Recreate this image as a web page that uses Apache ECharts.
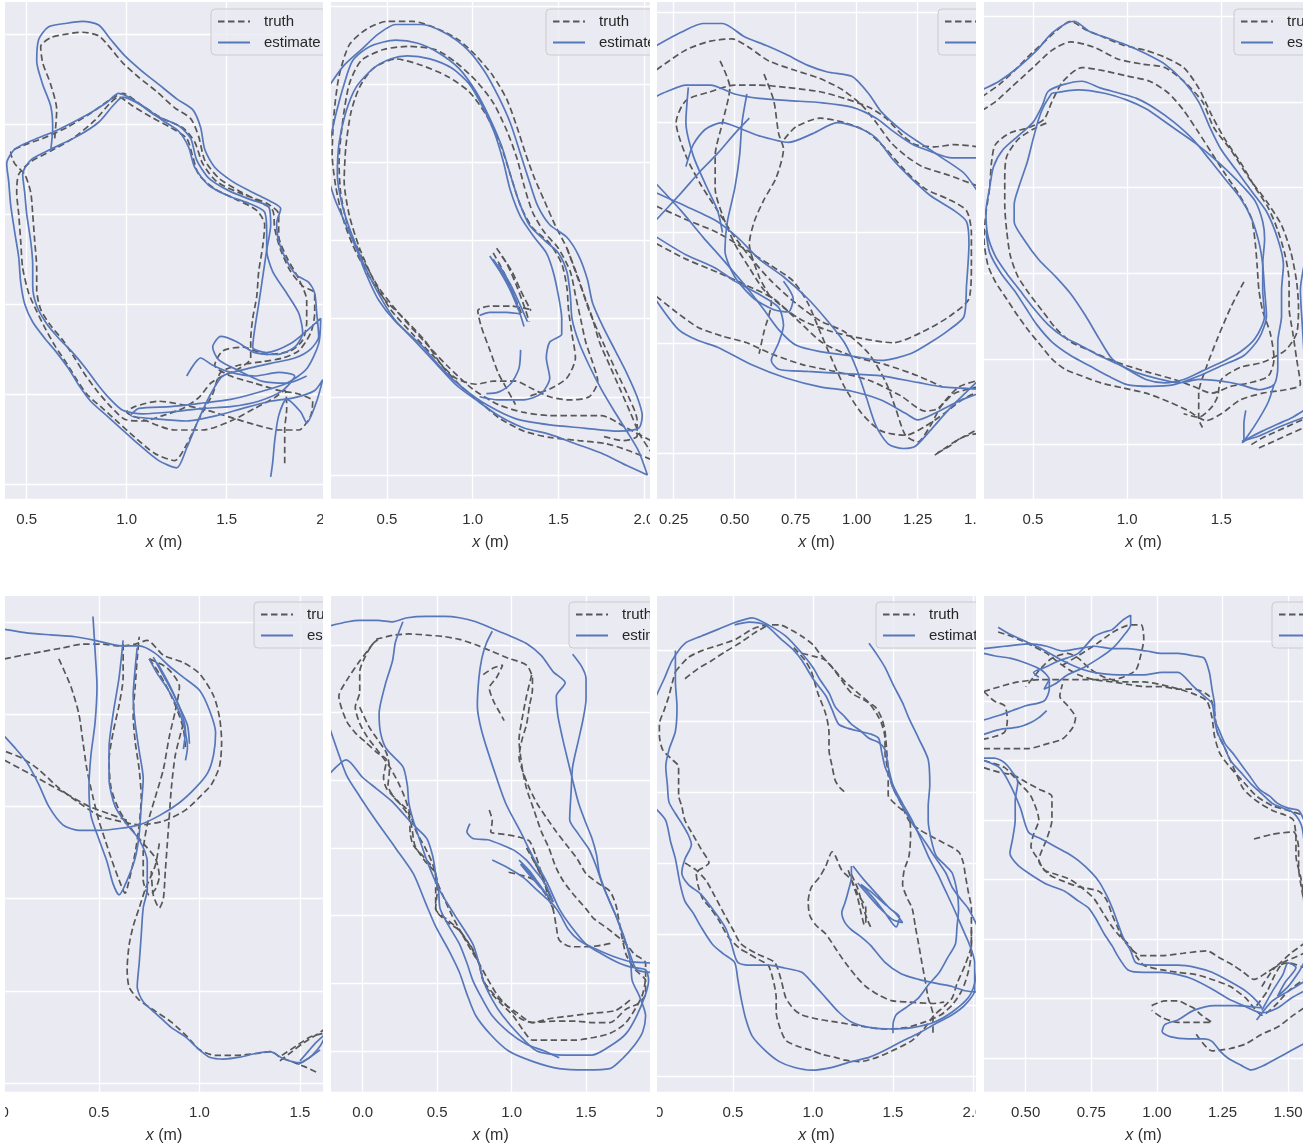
<!DOCTYPE html>
<html><head><meta charset="utf-8">
<script src="https://cdn.jsdelivr.net/npm/echarts@6/dist/echarts.min.js"></script>
<style>
html,body{margin:0;padding:0;background:#fff;width:1305px;height:1146px;overflow:hidden;}
.clip{position:absolute;overflow:hidden;}
.inner{position:absolute;}
</style></head><body>
<script>
// ---------- axis / panel description ----------
const xTickStep = [0.5,0.5,0.25,0.5,0.5,0.5,0.5,0.25];
const yTickStep = [0.5,0.5,0.5,0.5,0.5,0.5,0.5,0.25];
const xTickDecimals = [1,1,2,1,1,1,1,2];
const xVisible = [[0.3915,1.9815],[0.1731,2.0353],[0.1816,1.4889],[0.2398,1.9339],[0.0323,1.6144],[-0.2129,1.9295],[0.025,2.0188],[0.3411,1.5568]];
const yVisible = [[-0.0833,2.678],[-0.1535,3.024],[-0.2094,2.0477],[-0.3174,2.5823],[-0.0488,2.641],[-0.3028,3.3604],[-0.1142,3.3836],[-0.1429,1.9412]];
const seriesNames = ['truth','estimate'];

// ---------- panel 1 ----------
const p1Truth = [
[[0.64,1.92],[0.65,2.08],[0.62,2.22],[0.58,2.34],[0.57,2.43],[0.62,2.48],[0.7,2.5],[0.78,2.51],[0.86,2.49],[0.92,2.42],[0.98,2.34],[1.06,2.26],[1.15,2.18],[1.24,2.09],[1.32,2.03],[1.36,1.93],[1.39,1.8],[1.46,1.7],[1.56,1.63],[1.66,1.57],[1.73,1.52],[1.74,1.42],[1.77,1.3],[1.82,1.18],[1.88,1.1],[1.94,1.06],[1.94,0.95],[1.92,0.84],[1.86,0.74],[1.78,0.7],[1.68,0.68],[1.56,0.66],[1.47,0.62],[1.43,0.5],[1.37,0.38],[1.3,0.22],[1.24,0.13],[1.14,0.17],[1.04,0.26],[0.96,0.34],[0.88,0.42],[0.8,0.5],[0.75,0.58],[0.7,0.67],[0.64,0.77],[0.59,0.87],[0.55,0.96],[0.51,1.06],[0.48,1.2],[0.47,1.35],[0.46,1.5],[0.45,1.62],[0.46,1.72],[0.52,1.79],[0.62,1.85],[0.73,1.92],[0.84,2.02],[0.92,2.12],[0.96,2.15],[1.03,2.1],[1.12,2.04],[1.22,1.98],[1.3,1.92],[1.33,1.82],[1.36,1.72],[1.44,1.64],[1.55,1.58],[1.65,1.52],[1.69,1.44],[1.68,1.32],[1.66,1.18],[1.65,1.04],[1.63,0.92],[1.62,0.8],[1.62,0.7],[1.56,0.64],[1.48,0.6],[1.42,0.56],[1.36,0.48],[1.28,0.42],[1.18,0.38],[1.08,0.35],[0.99,0.36],[0.92,0.43],[0.85,0.52],[0.79,0.61],[0.74,0.7],[0.68,0.8],[0.62,0.88],[0.57,0.97],[0.55,1.08],[0.55,1.2],[0.54,1.35],[0.53,1.5],[0.52,1.62],[0.49,1.72],[0.44,1.78],[0.42,1.84],[0.48,1.88],[0.58,1.92],[0.7,1.98],[0.82,2.06],[0.91,2.13],[0.98,2.17],[1.08,2.1],[1.18,2.03],[1.28,1.98],[1.34,1.9],[1.38,1.78],[1.45,1.68],[1.58,1.61],[1.7,1.56],[1.76,1.5],[1.76,1.38],[1.8,1.26],[1.86,1.14],[1.9,1.02],[1.9,0.9],[1.88,0.8],[1.82,0.74],[1.7,0.72],[1.58,0.76],[1.48,0.74],[1.44,0.66],[1.52,0.6],[1.64,0.56],[1.76,0.52],[1.86,0.5],[1.93,0.46],[1.92,0.38],[1.86,0.3],[1.76,0.3],[1.64,0.33],[1.52,0.37],[1.4,0.41],[1.28,0.44],[1.16,0.46],[1.04,0.43],[1.0,0.4],[1.1,0.35],[1.24,0.3],[1.38,0.3],[1.52,0.35],[1.64,0.42],[1.74,0.48],[1.79,0.52],[1.8,0.42],[1.79,0.3],[1.79,0.2],[1.79,0.1]]
];
const p1Est = [
[[0.62,1.85],[0.63,1.98],[0.62,2.1],[0.58,2.22],[0.55,2.35],[0.56,2.47],[0.61,2.54],[0.7,2.56],[0.78,2.57],[0.86,2.55],[0.92,2.47],[0.99,2.38],[1.07,2.3],[1.16,2.22],[1.25,2.14],[1.33,2.08],[1.37,1.98],[1.39,1.86],[1.44,1.76],[1.53,1.68],[1.63,1.62],[1.72,1.57],[1.77,1.53],[1.75,1.45],[1.76,1.35],[1.8,1.24],[1.85,1.16],[1.91,1.12],[1.94,1.06],[1.95,0.95],[1.96,0.82],[1.92,0.75],[1.84,0.7],[1.72,0.67],[1.6,0.64],[1.48,0.6],[1.42,0.5],[1.36,0.36],[1.3,0.2],[1.25,0.09],[1.16,0.13],[1.06,0.22],[0.98,0.3],[0.9,0.38],[0.82,0.46],[0.76,0.55],[0.71,0.64],[0.65,0.73],[0.59,0.81],[0.53,0.9],[0.49,1.0],[0.47,1.12],[0.46,1.26],[0.44,1.4],[0.42,1.55],[0.41,1.68],[0.4,1.78],[0.44,1.86],[0.53,1.91],[0.66,1.97],[0.8,2.05],[0.9,2.12],[0.96,2.17],[1.04,2.13],[1.14,2.05],[1.26,1.99],[1.32,1.92],[1.35,1.8],[1.41,1.7],[1.51,1.63],[1.62,1.58],[1.71,1.54],[1.72,1.44],[1.7,1.3],[1.68,1.15],[1.66,1.0],[1.64,0.86],[1.63,0.76],[1.7,0.73],[1.82,0.78],[1.91,0.86],[1.97,0.92],[1.96,0.78],[1.9,0.64],[1.8,0.56],[1.66,0.51],[1.52,0.47],[1.38,0.45],[1.22,0.43],[1.06,0.42],[1.02,0.38],[1.16,0.36],[1.3,0.35],[1.45,0.38],[1.58,0.42],[1.72,0.46],[1.84,0.48],[1.94,0.52],[1.98,0.58],[1.95,0.46],[1.9,0.34],[1.87,0.4],[1.8,0.47],[1.76,0.38],[1.74,0.24],[1.73,0.12],[1.72,0.04]],
[[1.3,0.6],[1.37,0.7],[1.43,0.66],[1.52,0.62],[1.64,0.6],[1.76,0.62],[1.84,0.6],[1.78,0.52],[1.66,0.46],[1.52,0.43],[1.38,0.42],[1.22,0.4],[1.08,0.39],[0.98,0.41],[0.91,0.48],[0.85,0.56],[0.79,0.65],[0.73,0.73],[0.66,0.81],[0.6,0.89],[0.55,0.99],[0.53,1.1],[0.53,1.22],[0.52,1.35],[0.5,1.5],[0.49,1.62],[0.48,1.72],[0.52,1.8],[0.62,1.86],[0.75,1.93],[0.86,2.01],[0.93,2.1],[0.98,2.15],[1.08,2.1],[1.18,2.02],[1.26,1.96],[1.31,1.87],[1.34,1.76],[1.41,1.66],[1.51,1.6],[1.61,1.56],[1.69,1.51],[1.7,1.4],[1.7,1.3],[1.73,1.18],[1.8,1.06],[1.86,0.95],[1.88,0.84],[1.84,0.76],[1.75,0.72],[1.64,0.73],[1.55,0.79],[1.47,0.82],[1.43,0.76],[1.46,0.69],[1.56,0.63],[1.68,0.57],[1.8,0.56],[1.9,0.6]]
];

// ---------- panel 2 ----------
const p2Truth = [
[[2.04,0.1],[1.9,0.16],[1.78,0.2],[1.62,0.22],[1.45,0.24],[1.3,0.28],[1.16,0.36],[1.05,0.46],[0.93,0.57],[0.82,0.7],[0.72,0.86],[0.6,1.0],[0.48,1.13],[0.38,1.3],[0.3,1.47],[0.24,1.65],[0.2,1.85],[0.18,2.05],[0.19,2.3],[0.22,2.55],[0.28,2.75],[0.38,2.85],[0.5,2.9],[0.65,2.9],[0.8,2.85],[0.92,2.78],[1.02,2.68],[1.12,2.55],[1.2,2.4],[1.26,2.22],[1.31,2.05],[1.36,1.9],[1.42,1.75],[1.48,1.6],[1.55,1.45],[1.6,1.3],[1.65,1.15],[1.7,1.0],[1.74,0.85],[1.8,0.7],[1.86,0.55],[1.92,0.4],[1.98,0.25],[2.04,0.15]],
[[2.04,0.22],[1.9,0.3],[1.75,0.38],[1.6,0.38],[1.45,0.38],[1.3,0.4],[1.15,0.45],[1.0,0.55],[0.85,0.7],[0.72,0.85],[0.58,1.02],[0.45,1.2],[0.35,1.4],[0.27,1.6],[0.23,1.8],[0.22,2.0],[0.24,2.25],[0.28,2.5],[0.35,2.65],[0.48,2.72],[0.62,2.74],[0.78,2.72],[0.9,2.64],[1.02,2.52],[1.12,2.38],[1.2,2.2],[1.26,2.02],[1.3,1.85],[1.35,1.68],[1.42,1.55],[1.5,1.45],[1.57,1.3],[1.6,1.15],[1.63,1.0],[1.66,0.85],[1.7,0.72],[1.73,0.6],[1.68,0.5],[1.56,0.48],[1.45,0.5],[1.35,0.55],[1.25,0.6],[1.12,0.6],[1.02,0.58],[0.9,0.62],[0.78,0.75],[0.65,0.9],[0.52,1.06],[0.42,1.25],[0.34,1.45],[0.28,1.66],[0.25,1.88],[0.26,2.1],[0.29,2.32],[0.34,2.48],[0.42,2.6],[0.55,2.66],[0.7,2.62],[0.85,2.55],[0.98,2.45],[1.08,2.3],[1.16,2.12],[1.22,1.92],[1.28,1.72],[1.35,1.58],[1.45,1.48],[1.52,1.35],[1.55,1.2],[1.56,1.05],[1.58,0.9],[1.6,0.75],[1.55,0.62],[1.45,0.55],[1.32,0.5]],
[[1.14,1.45],[1.2,1.35],[1.26,1.2],[1.31,1.05],[1.33,0.98]],
[[1.12,1.42],[1.18,1.3],[1.24,1.15],[1.29,1.02]],
[[1.17,1.4],[1.23,1.3],[1.28,1.18],[1.34,1.05]],
[[1.33,1.06],[1.22,1.08],[1.1,1.08],[1.03,1.05],[1.05,0.95],[1.1,0.8],[1.15,0.65],[1.2,0.55],[1.25,0.45]],
[[1.55,1.45],[1.62,1.25],[1.68,1.05],[1.76,0.85],[1.84,0.66],[1.91,0.5],[1.96,0.35],[1.96,0.25],[1.88,0.22],[1.75,0.25]]
];
const p2Est = [
[[0.17,2.5],[0.25,2.62],[0.35,2.72],[0.45,2.82],[0.55,2.88],[0.7,2.88],[0.85,2.82],[0.97,2.72],[1.07,2.58],[1.15,2.42],[1.22,2.25],[1.28,2.05],[1.33,1.88],[1.38,1.72],[1.45,1.6],[1.55,1.52],[1.62,1.4],[1.67,1.25],[1.7,1.1],[1.76,0.95],[1.83,0.8],[1.9,0.65],[1.96,0.5],[1.99,0.38],[1.97,0.3],[1.85,0.28],[1.65,0.3],[1.45,0.32],[1.25,0.36],[1.08,0.45],[0.95,0.55],[0.82,0.68],[0.7,0.83],[0.55,0.98],[0.45,1.12],[0.38,1.28],[0.32,1.45],[0.26,1.6],[0.2,1.75],[0.17,1.85]],
[[0.17,2.15],[0.2,2.3],[0.25,2.5],[0.3,2.65],[0.4,2.74],[0.55,2.78],[0.68,2.76],[0.8,2.7],[0.92,2.6],[1.02,2.45],[1.1,2.28],[1.17,2.1],[1.22,1.92],[1.27,1.75],[1.33,1.6],[1.42,1.5],[1.5,1.42],[1.55,1.3],[1.57,1.15],[1.58,1.0],[1.62,0.85],[1.68,0.7],[1.75,0.55],[1.82,0.42],[1.9,0.28],[1.97,0.15],[2.02,0.0],[1.9,0.06],[1.75,0.14],[1.6,0.2],[1.45,0.26],[1.3,0.3],[1.15,0.38],[1.02,0.48],[0.9,0.58],[0.78,0.72],[0.66,0.86],[0.54,1.0],[0.44,1.18],[0.36,1.36],[0.29,1.55],[0.24,1.72],[0.21,1.92],[0.22,2.12],[0.26,2.32],[0.32,2.48],[0.42,2.6],[0.52,2.66],[0.62,2.68],[0.75,2.66],[0.88,2.6],[0.98,2.5],[1.06,2.35],[1.13,2.18],[1.18,2.0],[1.22,1.82],[1.28,1.65],[1.36,1.52],[1.43,1.42],[1.47,1.3],[1.5,1.15],[1.52,1.0],[1.52,0.9],[1.45,0.85],[1.43,0.75],[1.45,0.62],[1.4,0.52],[1.3,0.48],[1.15,0.48],[1.04,0.5]],
[[1.12,1.38],[1.18,1.28],[1.24,1.15],[1.28,1.02],[1.3,0.95]],
[[1.15,1.35],[1.22,1.22],[1.28,1.08],[1.32,0.98]],
[[1.1,1.4],[1.16,1.3],[1.22,1.18],[1.27,1.05]],
[[1.04,1.02],[1.1,1.04],[1.2,1.04],[1.28,1.03]],
[[1.28,0.8],[1.27,0.68],[1.22,0.58],[1.15,0.53],[1.08,0.52]]
];

// ---------- panel 3 ----------
const p3Truth = [
[[0.18,1.74],[0.3,1.83],[0.4,1.87],[0.49,1.88],[0.56,1.84],[0.64,1.78],[0.74,1.74],[0.85,1.7],[0.94,1.65],[1.02,1.58],[1.08,1.5],[1.14,1.41],[1.2,1.35],[1.27,1.3],[1.38,1.26],[1.5,1.21]],
[[1.5,1.39],[1.4,1.4],[1.32,1.39],[1.24,1.4],[1.19,1.44],[1.12,1.52],[1.05,1.57],[0.95,1.61],[0.85,1.64],[0.71,1.66],[0.6,1.67],[0.5,1.67],[0.4,1.64],[0.3,1.6],[0.26,1.5],[0.3,1.35],[0.36,1.22],[0.43,1.1],[0.5,0.98],[0.57,0.88],[0.65,0.78],[0.75,0.68],[0.85,0.6],[0.95,0.55],[1.05,0.45],[1.12,0.32],[1.16,0.2],[1.2,0.08],[1.25,0.05],[1.3,0.12],[1.35,0.22],[1.42,0.3],[1.5,0.33]],
[[1.5,0.3],[1.4,0.27],[1.33,0.2],[1.28,0.19],[1.18,0.26],[1.05,0.33],[0.91,0.37],[0.78,0.4],[0.65,0.45],[0.55,0.5],[0.45,0.53],[0.35,0.57],[0.26,0.64],[0.18,0.71]],
[[0.18,0.95],[0.3,0.88],[0.43,0.82],[0.55,0.76],[0.66,0.7],[0.76,0.6],[0.86,0.5],[0.98,0.44],[1.12,0.4],[1.25,0.35],[1.35,0.3]],
[[0.44,1.78],[0.48,1.66],[0.45,1.5],[0.42,1.35],[0.42,1.2],[0.45,1.08],[0.5,0.95],[0.56,0.84],[0.62,0.74],[0.7,0.66],[0.78,0.6],[0.9,0.55],[1.02,0.52],[1.15,0.5],[1.27,0.55],[1.38,0.62],[1.46,0.7],[1.47,0.85],[1.47,1.0],[1.45,1.1],[1.38,1.15],[1.28,1.2],[1.2,1.28],[1.12,1.38],[1.04,1.46],[0.95,1.5],[0.85,1.52],[0.75,1.48],[0.7,1.42]],
[[0.62,1.72],[0.66,1.6],[0.68,1.45],[0.7,1.38],[0.67,1.25],[0.62,1.15],[0.58,1.05],[0.56,0.95],[0.6,0.8],[0.65,0.68],[0.62,0.55],[0.6,0.45]],
[[0.18,1.12],[0.3,1.06],[0.43,1.0],[0.55,0.92],[0.65,0.85],[0.74,0.78],[0.8,0.68],[0.85,0.55],[0.9,0.42],[0.95,0.3],[1.02,0.18],[1.1,0.1],[1.2,0.08],[1.28,0.12],[1.36,0.18],[1.43,0.24],[1.5,0.28]],
[[1.32,-0.01],[1.36,0.02],[1.4,0.05],[1.45,0.08],[1.5,0.11]],
[[1.33,0.0],[1.38,0.03],[1.43,0.07],[1.5,0.09]]
];
const p3Est = [
[[0.18,1.85],[0.28,1.91],[0.37,1.95],[0.45,1.95],[0.54,1.89],[0.63,1.85],[0.71,1.81],[0.8,1.76],[0.88,1.73],[0.98,1.71],[1.05,1.63],[1.1,1.55],[1.19,1.46],[1.27,1.4],[1.35,1.34],[1.44,1.27],[1.5,1.18]],
[[1.5,1.34],[1.39,1.34],[1.3,1.37],[1.23,1.4],[1.15,1.46],[1.08,1.52],[0.98,1.57],[0.86,1.59],[0.72,1.6],[0.6,1.61],[0.5,1.63],[0.4,1.67],[0.3,1.67],[0.22,1.64],[0.18,1.62]],
[[0.3,1.3],[0.33,1.4],[0.38,1.47],[0.45,1.5],[0.53,1.47],[0.6,1.44],[0.72,1.41],[0.82,1.45],[0.92,1.5],[1.0,1.48],[1.08,1.43],[1.15,1.33],[1.22,1.25],[1.3,1.17],[1.4,1.1],[1.45,1.05],[1.46,0.95],[1.45,0.76],[1.44,0.62],[1.38,0.56],[1.3,0.5],[1.22,0.45],[1.1,0.42],[0.98,0.44],[0.85,0.46],[0.75,0.49],[0.68,0.56],[0.62,0.65],[0.55,0.75],[0.45,0.88],[0.37,0.98],[0.28,1.1],[0.18,1.22]],
[[0.18,0.69],[0.27,0.56],[0.35,0.51],[0.43,0.48],[0.57,0.4],[0.71,0.34],[0.85,0.3],[0.98,0.28],[1.1,0.24],[1.2,0.18],[1.25,0.15],[1.32,0.18],[1.39,0.22],[1.45,0.25],[1.5,0.27]],
[[0.18,1.18],[0.3,1.12],[0.43,1.05],[0.52,0.97],[0.6,0.88],[0.7,0.8],[0.8,0.7],[0.88,0.6],[0.95,0.5],[1.0,0.38],[1.04,0.25],[1.08,0.12],[1.13,0.04],[1.19,0.02],[1.24,0.03],[1.3,0.1],[1.38,0.2],[1.5,0.33]],
[[0.18,0.98],[0.3,0.9],[0.42,0.84],[0.5,0.78],[0.6,0.72],[0.68,0.66],[0.7,0.58],[0.68,0.5],[0.65,0.42],[0.68,0.38],[0.8,0.37],[0.95,0.36],[1.1,0.35],[1.25,0.32],[1.35,0.3],[1.5,0.29]],
[[0.55,1.63],[0.53,1.5],[0.52,1.35],[0.5,1.2],[0.47,1.05],[0.46,0.92],[0.5,0.8],[0.58,0.7],[0.66,0.65],[0.72,0.64],[0.74,0.7],[0.7,0.78]],
[[0.18,1.06],[0.28,1.18],[0.36,1.28],[0.43,1.36],[0.5,1.45],[0.56,1.52]],
[[0.31,1.66],[0.3,1.5],[0.33,1.35],[0.38,1.22],[0.43,1.1],[0.45,1.0]]
];

// ---------- panel 4 ----------
const p4Truth = [
[[0.23,2.03],[0.32,2.1],[0.4,2.18],[0.48,2.27],[0.56,2.35],[0.63,2.42],[0.7,2.47],[0.78,2.42],[0.87,2.38],[0.98,2.33],[1.1,2.3],[1.2,2.26],[1.3,2.2],[1.38,2.08],[1.45,1.92],[1.52,1.78],[1.6,1.65],[1.68,1.5],[1.75,1.38],[1.8,1.25],[1.84,1.1],[1.86,0.95],[1.86,0.8],[1.88,0.65],[1.9,0.5],[1.92,0.35],[1.84,0.32],[1.72,0.3],[1.6,0.26],[1.5,0.18],[1.42,0.14],[1.32,0.2],[1.22,0.25],[1.1,0.3],[0.98,0.33],[0.86,0.36],[0.76,0.4],[0.67,0.44],[0.6,0.5],[0.54,0.58],[0.48,0.66],[0.42,0.75],[0.36,0.85],[0.3,0.95],[0.26,1.05],[0.24,1.2],[0.25,1.35],[0.27,1.5],[0.28,1.65],[0.3,1.75],[0.38,1.82],[0.48,1.85],[0.56,1.9],[0.6,2.0],[0.66,2.12],[0.76,2.2],[0.88,2.18],[1.0,2.15],[1.12,2.12],[1.22,2.05],[1.3,1.95],[1.38,1.82],[1.45,1.7],[1.52,1.58],[1.6,1.45],[1.66,1.32],[1.68,1.18],[1.69,1.05],[1.7,0.9],[1.72,0.78],[1.76,0.65],[1.78,0.5],[1.75,0.4],[1.65,0.36],[1.55,0.34],[1.45,0.3],[1.35,0.34],[1.25,0.38],[1.12,0.42],[1.0,0.46],[0.9,0.5],[0.8,0.55],[0.7,0.6],[0.62,0.68],[0.55,0.78],[0.48,0.88],[0.42,0.98],[0.38,1.1],[0.36,1.25],[0.35,1.4],[0.35,1.55],[0.36,1.68],[0.42,1.78],[0.5,1.84],[0.58,1.88]],
[[0.23,1.95],[0.3,2.0],[0.38,2.08],[0.5,2.2],[0.6,2.3],[0.7,2.35],[0.82,2.32],[0.95,2.25],[1.08,2.22],[1.2,2.2],[1.3,2.12],[1.4,2.0],[1.46,1.85],[1.55,1.72],[1.65,1.55],[1.74,1.42],[1.82,1.28],[1.87,1.12],[1.9,0.95],[1.91,0.8],[1.9,0.65],[1.84,0.55],[1.72,0.48],[1.6,0.45],[1.5,0.38],[1.48,0.28],[1.45,0.22],[1.38,0.16],[1.3,0.18]],
[[1.62,0.95],[1.55,0.8],[1.48,0.62],[1.42,0.45],[1.38,0.3],[1.38,0.15],[1.4,0.1]],
[[1.66,0.0],[1.72,0.04],[1.8,0.08],[1.88,0.12],[1.94,0.15]],
[[1.7,-0.02],[1.78,0.02],[1.86,0.06],[1.94,0.1]]
];
const p4Est = [
[[0.23,2.07],[0.32,2.12],[0.42,2.2],[0.52,2.3],[0.6,2.4],[0.68,2.46],[0.72,2.47],[0.8,2.41],[0.9,2.37],[1.0,2.33],[1.1,2.28],[1.2,2.22],[1.3,2.12],[1.38,2.0],[1.44,1.85],[1.5,1.72],[1.58,1.6],[1.66,1.48],[1.74,1.36],[1.8,1.2],[1.83,1.05],[1.82,0.9],[1.82,0.75],[1.8,0.6],[1.8,0.45],[1.78,0.35],[1.7,0.32],[1.6,0.35],[1.5,0.37],[1.38,0.38],[1.28,0.36],[1.18,0.38],[1.05,0.42],[0.95,0.47],[0.85,0.52],[0.75,0.58],[0.66,0.63],[0.58,0.7],[0.5,0.8],[0.43,0.9],[0.36,1.0],[0.3,1.1],[0.26,1.22],[0.25,1.36],[0.27,1.5],[0.29,1.62],[0.34,1.72],[0.42,1.8],[0.5,1.88],[0.55,1.98],[0.58,2.06],[0.66,2.1],[0.76,2.12],[0.86,2.08],[0.96,2.05],[1.05,2.02],[1.15,1.96],[1.25,1.88],[1.35,1.78],[1.44,1.66],[1.52,1.55],[1.6,1.44],[1.66,1.32],[1.7,1.18],[1.72,1.05],[1.73,0.9],[1.74,0.75],[1.7,0.62],[1.62,0.52],[1.5,0.46],[1.38,0.4],[1.25,0.35],[1.12,0.34],[1.0,0.35],[0.9,0.4],[0.8,0.46],[0.7,0.52],[0.6,0.6],[0.52,0.7],[0.46,0.8],[0.4,0.9],[0.33,1.0],[0.27,1.12],[0.25,1.25]],
[[0.6,2.05],[0.74,2.07],[0.88,2.05],[1.0,2.01],[1.1,1.96],[1.18,1.9],[1.27,1.83],[1.36,1.76],[1.45,1.68],[1.54,1.59],[1.62,1.5],[1.68,1.42],[1.72,1.3],[1.73,1.2],[1.72,1.05],[1.72,0.9],[1.73,0.75],[1.68,0.62],[1.6,0.54],[1.5,0.48],[1.4,0.43],[1.3,0.38],[1.2,0.36],[1.1,0.38],[1.0,0.44],[0.92,0.5],[0.85,0.62],[0.78,0.75],[0.7,0.88],[0.62,0.98],[0.53,1.08],[0.45,1.2],[0.4,1.3],[0.4,1.4],[0.43,1.52],[0.47,1.65],[0.5,1.78],[0.53,1.9],[0.56,1.98],[0.6,2.05]],
[[1.78,0.35],[1.75,0.25],[1.7,0.15],[1.64,0.05],[1.61,0.01],[1.65,0.04],[1.72,0.08],[1.8,0.12],[1.88,0.16],[1.94,0.2]],
[[1.61,0.02],[1.7,0.05],[1.8,0.1],[1.94,0.16]],
[[1.62,0.02],[1.62,0.12],[1.63,0.2]],
[[1.94,1.05],[1.92,0.9],[1.93,0.7],[1.94,0.52]]
];

// ---------- panel 5 ----------
const p5Truth = [
[[0.03,2.3],[0.12,2.32],[0.22,2.34],[0.32,2.36],[0.42,2.38],[0.52,2.38],[0.6,2.37],[0.68,2.38],[0.74,2.4],[0.82,2.32],[0.92,2.28],[1.0,2.22],[1.07,2.1],[1.1,1.98],[1.11,1.85],[1.1,1.72],[1.06,1.62],[1.0,1.55],[0.93,1.48],[0.82,1.42],[0.7,1.4],[0.6,1.42],[0.5,1.45],[0.4,1.52],[0.3,1.6],[0.2,1.7],[0.12,1.76],[0.03,1.8]],
[[0.3,2.3],[0.36,2.15],[0.4,2.0],[0.42,1.85],[0.44,1.7],[0.47,1.55],[0.5,1.42],[0.53,1.32],[0.56,1.22],[0.6,1.1],[0.63,1.03],[0.65,1.1],[0.68,1.25],[0.7,1.4],[0.71,1.55],[0.7,1.7],[0.68,1.85],[0.67,2.0],[0.68,2.15],[0.69,2.3],[0.7,2.42]],
[[0.62,2.38],[0.62,2.2],[0.6,2.05],[0.57,1.9],[0.55,1.75],[0.56,1.6],[0.6,1.48],[0.66,1.38],[0.72,1.3],[0.78,1.22],[0.8,1.12],[0.78,1.05],[0.75,1.02],[0.72,1.1],[0.72,1.25],[0.74,1.4],[0.78,1.55],[0.82,1.7],[0.85,1.88],[0.88,2.02],[0.9,2.15],[0.84,2.25],[0.75,2.3]],
[[0.92,1.95],[0.88,1.78],[0.86,1.6],[0.85,1.45],[0.84,1.3],[0.83,1.15],[0.82,1.0],[0.8,0.95],[0.77,1.02],[0.76,1.15]],
[[0.8,1.3],[0.78,1.18],[0.73,1.05],[0.7,0.95],[0.67,0.85],[0.65,0.75],[0.64,0.62],[0.65,0.52],[0.7,0.45],[0.78,0.39],[0.86,0.33],[0.94,0.25],[1.0,0.18],[1.08,0.15],[1.18,0.15],[1.28,0.16],[1.36,0.17],[1.4,0.14],[1.45,0.12],[1.52,0.09],[1.58,0.06]],
[[1.4,0.12],[1.46,0.17],[1.52,0.22],[1.58,0.26],[1.62,0.29]],
[[1.41,0.15],[1.48,0.2],[1.55,0.25],[1.62,0.27]],
[[0.75,2.3],[0.8,2.22],[0.85,2.12],[0.89,2.02],[0.92,1.92],[0.93,1.82]],
[[0.03,1.75],[0.15,1.68],[0.25,1.62],[0.35,1.56],[0.45,1.5],[0.55,1.46],[0.65,1.42]]
];
const p5Est = [
[[0.03,2.46],[0.15,2.44],[0.26,2.43],[0.38,2.42],[0.48,2.4],[0.56,2.38],[0.62,2.37],[0.7,2.37],[0.78,2.33],[0.85,2.26],[0.92,2.2],[1.0,2.13],[1.05,2.02],[1.08,1.9],[1.07,1.78],[1.04,1.68],[0.98,1.6],[0.9,1.52],[0.8,1.45],[0.7,1.4],[0.6,1.38],[0.5,1.37],[0.4,1.37],[0.32,1.4],[0.25,1.5],[0.2,1.62],[0.14,1.74],[0.08,1.82],[0.03,1.88]],
[[0.47,2.53],[0.48,2.35],[0.49,2.15],[0.48,1.95],[0.46,1.78],[0.45,1.6],[0.46,1.45],[0.5,1.32],[0.54,1.2],[0.57,1.08],[0.6,1.02],[0.64,1.1],[0.68,1.22],[0.7,1.35],[0.71,1.5],[0.72,1.65],[0.7,1.8],[0.68,1.95],[0.67,2.1],[0.68,2.25],[0.69,2.36]],
[[0.75,2.3],[0.79,2.22],[0.84,2.14],[0.88,2.06],[0.91,1.98],[0.93,1.9],[0.94,1.82],[0.93,1.75]],
[[0.77,2.31],[0.82,2.21],[0.87,2.11],[0.91,2.01],[0.93,1.91],[0.92,1.81]],
[[0.79,2.28],[0.85,2.16],[0.9,2.04],[0.94,1.94],[0.95,1.84]],
[[0.62,2.4],[0.6,2.2],[0.57,2.0],[0.55,1.82],[0.55,1.65],[0.58,1.5],[0.64,1.4],[0.7,1.32],[0.74,1.2],[0.74,1.05],[0.72,0.95],[0.71,0.8],[0.7,0.65],[0.69,0.52],[0.72,0.44],[0.79,0.37],[0.86,0.3],[0.93,0.25],[1.0,0.18],[1.05,0.14],[1.12,0.13],[1.2,0.14],[1.28,0.16],[1.35,0.17],[1.42,0.13],[1.5,0.11],[1.56,0.15],[1.6,0.2],[1.62,0.24]],
[[1.5,0.12],[1.54,0.17],[1.58,0.22],[1.62,0.26]],
[[1.49,0.1],[1.55,0.14],[1.6,0.18]]
];

// ---------- panel 6 ----------
const p6Truth = [
[[0.09,3.04],[0.2,3.07],[0.31,3.08],[0.45,3.07],[0.55,3.06],[0.65,3.04],[0.76,3.0],[0.87,2.95],[0.98,2.9],[1.1,2.85],[1.14,2.75],[1.14,2.67],[1.12,2.55],[1.1,2.41],[1.07,2.3],[1.05,2.17],[1.08,2.05],[1.12,1.94],[1.17,1.83],[1.23,1.73],[1.3,1.62],[1.37,1.52],[1.44,1.42],[1.5,1.31],[1.58,1.24],[1.66,1.18],[1.7,1.08],[1.72,0.97],[1.74,0.85],[1.77,0.71],[1.83,0.6],[1.9,0.52],[1.9,0.42],[1.85,0.35],[1.77,0.31],[1.66,0.21],[1.55,0.21],[1.43,0.22],[1.28,0.22],[1.14,0.21],[1.04,0.28],[0.96,0.34],[0.88,0.42],[0.81,0.52],[0.79,0.62],[0.74,0.75],[0.67,0.86],[0.6,1.0],[0.55,1.12],[0.5,1.25],[0.47,1.38],[0.42,1.5],[0.36,1.62],[0.32,1.75],[0.28,1.88],[0.24,1.98],[0.18,2.1],[0.1,2.22],[0.03,2.32],[-0.02,2.42],[-0.05,2.54],[-0.02,2.65],[-0.02,2.8],[0.02,2.92],[0.07,3.01],[0.12,3.05]],
[[-0.02,2.54],[0.04,2.4],[0.1,2.3],[0.16,2.2],[0.18,2.08],[0.17,1.96],[0.22,1.86],[0.3,1.78],[0.33,1.65],[0.35,1.52],[0.42,1.4],[0.49,1.31],[0.5,1.18],[0.49,1.05],[0.56,0.96],[0.65,0.89],[0.72,0.78],[0.78,0.65],[0.8,0.55],[0.83,0.47],[0.92,0.36],[1.01,0.26],[1.08,0.15],[1.14,0.08],[1.3,0.08],[1.43,0.08],[1.55,0.1],[1.66,0.13],[1.76,0.2],[1.83,0.31],[1.88,0.42],[1.9,0.55],[1.9,0.65],[1.82,0.72],[1.77,0.79],[1.65,0.9],[1.55,0.98],[1.5,1.05],[1.42,1.15],[1.35,1.25],[1.3,1.35],[1.25,1.5],[1.2,1.62],[1.15,1.78],[1.1,1.94],[1.07,2.1],[1.05,2.3],[1.07,2.45],[1.1,2.62],[1.14,2.8]],
[[0.07,3.01],[-0.02,2.88],[-0.1,2.75],[-0.16,2.62],[-0.11,2.44],[-0.05,2.35],[0.02,2.28],[0.1,2.2],[0.16,2.15],[0.14,2.02],[0.16,1.94],[0.24,1.84],[0.31,1.73],[0.32,1.6],[0.34,1.52],[0.42,1.42],[0.49,1.31],[0.49,1.18],[0.49,1.05],[0.58,0.96],[0.65,0.89],[0.72,0.76],[0.78,0.65],[0.83,0.55],[0.9,0.42],[0.98,0.32],[1.06,0.24],[1.14,0.21],[1.26,0.24],[1.4,0.26],[1.55,0.28],[1.7,0.3],[1.8,0.38]],
[[0.81,2.78],[0.88,2.83],[0.94,2.85],[0.9,2.76],[0.85,2.68],[0.88,2.58],[0.92,2.5],[0.95,2.44]],
[[0.85,1.78],[0.87,1.7],[0.86,1.62],[0.95,1.6],[1.05,1.58],[1.12,1.55],[1.16,1.45],[1.19,1.35],[1.22,1.25],[1.25,1.12],[1.28,1.05]],
[[0.98,1.32],[1.06,1.3],[1.14,1.27],[1.2,1.2],[1.25,1.12],[1.28,1.04],[1.3,0.92],[1.32,0.82],[1.4,0.77],[1.5,0.77],[1.6,0.78],[1.68,0.8]],
[[1.1,1.5],[1.15,1.4],[1.2,1.3],[1.24,1.2],[1.27,1.1]],
[[1.12,1.48],[1.17,1.36],[1.22,1.24],[1.26,1.14],[1.29,1.06]]
];
const p6Est = [
[[-0.22,3.14],[-0.1,3.17],[-0.02,3.18],[0.1,3.18],[0.2,3.17],[0.3,3.2],[0.43,3.21],[0.55,3.21],[0.65,3.2],[0.76,3.17],[0.87,3.12],[0.98,3.07],[1.1,3.01],[1.2,2.92],[1.28,2.8],[1.36,2.72],[1.3,2.62],[1.31,2.48],[1.34,2.32],[1.37,2.18],[1.41,2.0],[1.45,1.83],[1.5,1.68],[1.54,1.57],[1.57,1.45],[1.59,1.31],[1.63,1.18],[1.68,1.05],[1.73,0.92],[1.77,0.79],[1.8,0.65],[1.81,0.52],[1.86,0.4],[1.9,0.26],[1.88,0.14],[1.83,0.05],[1.75,-0.05],[1.66,-0.13],[1.5,-0.14],[1.32,-0.13],[1.15,-0.08],[0.98,0.0],[0.86,0.12],[0.76,0.26],[0.7,0.42],[0.65,0.58],[0.58,0.74],[0.49,0.92],[0.42,1.1],[0.34,1.31],[0.22,1.5],[0.09,1.7],[-0.02,1.88],[-0.11,2.04],[-0.17,2.22],[-0.22,2.38]],
[[0.27,3.17],[0.22,3.02],[0.2,2.88],[0.15,2.7],[0.11,2.49],[0.12,2.35],[0.16,2.23],[0.27,2.1],[0.3,1.96],[0.31,1.83],[0.34,1.7],[0.38,1.57],[0.44,1.38],[0.52,1.18],[0.62,1.0],[0.74,0.79],[0.78,0.65],[0.81,0.52],[0.87,0.38],[0.94,0.26],[1.05,0.12],[1.17,0.0],[1.35,-0.03],[1.54,-0.03],[1.68,0.05],[1.77,0.13],[1.84,0.26],[1.9,0.42],[1.92,0.52],[1.9,0.6],[1.8,0.62],[1.72,0.65],[1.6,0.72],[1.5,0.79],[1.4,0.92],[1.32,1.05],[1.24,1.24],[1.14,1.44],[1.06,1.62],[0.96,1.83],[0.88,2.08],[0.8,2.36],[0.77,2.55],[0.78,2.75],[0.8,2.9],[0.83,3.01],[0.87,3.1]],
[[1.41,2.93],[1.47,2.84],[1.5,2.75],[1.5,2.6],[1.48,2.45],[1.45,2.3],[1.41,2.1],[1.4,1.92],[1.39,1.71],[1.45,1.6],[1.52,1.49],[1.57,1.36],[1.61,1.23],[1.66,1.1],[1.7,1.0],[1.75,0.85],[1.8,0.7],[1.84,0.6],[1.94,0.58]],
[[-0.22,2.05],[-0.11,2.15],[0.0,2.02],[0.09,1.94],[0.2,1.84],[0.29,1.73],[0.36,1.65],[0.43,1.57],[0.47,1.44],[0.49,1.31],[0.51,1.18],[0.52,1.05],[0.58,0.92],[0.65,0.79],[0.7,0.65],[0.74,0.52],[0.8,0.39],[0.87,0.26],[0.98,0.14],[1.1,0.05],[1.22,0.0],[1.32,-0.05]],
[[0.72,1.68],[0.7,1.62],[0.74,1.57],[0.84,1.56],[0.94,1.52],[1.02,1.48],[1.1,1.41],[1.16,1.33],[1.21,1.26],[1.25,1.18],[1.28,1.1]],
[[1.05,1.41],[1.12,1.33],[1.18,1.24],[1.24,1.15],[1.28,1.1],[1.2,1.2],[1.12,1.3],[1.06,1.38],[1.15,1.28],[1.22,1.18],[1.27,1.12]],
[[0.87,1.41],[0.98,1.35],[1.08,1.28],[1.16,1.2],[1.22,1.14],[1.28,1.08],[1.33,1.0],[1.38,0.9],[1.45,0.82],[1.55,0.76],[1.68,0.7],[1.8,0.66],[1.94,0.65]]
];

// ---------- panel 7 ----------
const p7Truth = [
[[0.14,2.85],[0.22,2.95],[0.31,3.0],[0.42,3.04],[0.52,3.08],[0.62,3.15],[0.72,3.18],[0.79,3.18],[0.87,3.14],[0.93,3.1],[1.0,3.04],[1.04,2.98],[1.12,2.88],[1.2,2.78],[1.28,2.7],[1.35,2.63],[1.4,2.55],[1.43,2.48],[1.45,2.38],[1.45,2.28],[1.47,2.15],[1.5,2.03],[1.55,1.92],[1.6,1.8],[1.66,1.74],[1.72,1.7],[1.82,1.64],[1.91,1.58],[1.94,1.5],[1.95,1.43],[1.97,1.3],[1.99,1.18],[1.99,1.05],[1.99,0.93],[1.95,0.78],[1.9,0.65],[1.87,0.55],[1.82,0.49],[1.76,0.43],[1.7,0.34],[1.62,0.25],[1.52,0.19],[1.4,0.13],[1.29,0.1],[1.2,0.11],[1.14,0.13],[1.06,0.15],[0.99,0.18],[0.9,0.21],[0.83,0.25],[0.79,0.35],[0.77,0.45],[0.77,0.55],[0.75,0.68],[0.72,0.78],[0.66,0.82],[0.6,0.86],[0.54,0.9],[0.47,0.98],[0.41,1.1],[0.36,1.18],[0.31,1.25],[0.28,1.35],[0.27,1.43],[0.33,1.48],[0.35,1.5],[0.3,1.6],[0.25,1.7],[0.2,1.8],[0.18,1.9],[0.16,1.98],[0.16,2.08],[0.16,2.18],[0.11,2.24],[0.06,2.3],[0.04,2.4],[0.04,2.48],[0.07,2.58],[0.1,2.68],[0.12,2.77],[0.14,2.85]],
[[0.2,2.8],[0.28,2.87],[0.37,2.93],[0.45,2.99],[0.54,3.05],[0.63,3.12],[0.72,3.18]],
[[0.88,3.02],[0.95,2.93],[0.99,2.85],[1.03,2.7],[1.08,2.55],[1.1,2.42],[1.1,2.3],[1.12,2.18],[1.14,2.08],[1.17,2.03],[1.2,2.0]],
[[0.93,2.98],[1.0,2.96],[1.08,2.93],[1.16,2.82],[1.24,2.7],[1.32,2.65],[1.39,2.6],[1.43,2.52],[1.45,2.43],[1.46,2.3],[1.47,2.13],[1.47,1.98],[1.53,1.9],[1.6,1.83],[1.61,1.7],[1.6,1.55],[1.57,1.45],[1.56,1.35],[1.59,1.25],[1.62,1.18],[1.64,1.05],[1.66,0.93],[1.68,0.8],[1.7,0.68],[1.72,0.55],[1.75,0.43],[1.75,0.3]],
[[1.33,1.08],[1.33,1.18],[1.28,1.28],[1.24,1.38],[1.18,1.45],[1.14,1.55],[1.12,1.58],[1.08,1.48],[1.04,1.4],[0.99,1.33],[0.97,1.23],[0.98,1.13],[1.02,1.06],[1.08,1.0],[1.14,0.9],[1.2,0.8],[1.27,0.7],[1.33,0.63],[1.41,0.57],[1.49,0.53],[1.6,0.52],[1.75,0.51],[1.82,0.52]],
[[0.2,1.5],[0.27,1.45],[0.33,1.38],[0.38,1.28],[0.45,1.13],[0.5,1.03],[0.55,0.93],[0.65,0.86],[0.76,0.8],[0.8,0.68],[0.83,0.55],[0.88,0.47],[0.93,0.43],[1.03,0.4],[1.14,0.38],[1.3,0.35],[1.45,0.33],[1.58,0.34],[1.7,0.38],[1.8,0.43],[1.87,0.5],[1.93,0.6],[1.97,0.73],[1.99,0.88],[1.99,1.03]],
[[1.22,1.45],[1.25,1.35],[1.28,1.25],[1.3,1.15],[1.32,1.06]],
[[1.24,1.42],[1.28,1.32],[1.31,1.2],[1.34,1.1],[1.36,1.05]]
];
const p7Est = [
[[0.02,2.68],[0.07,2.8],[0.12,2.93],[0.2,3.05],[0.3,3.1],[0.41,3.15],[0.52,3.2],[0.62,3.23],[0.72,3.18],[0.83,3.1],[0.93,2.98],[1.0,2.88],[1.04,2.8],[1.1,2.7],[1.14,2.6],[1.2,2.53],[1.24,2.48],[1.3,2.43],[1.35,2.38],[1.41,2.35],[1.45,2.3],[1.47,2.18],[1.5,2.05],[1.56,1.92],[1.62,1.8],[1.67,1.68],[1.72,1.55],[1.78,1.42],[1.83,1.3],[1.88,1.18],[1.93,1.05],[1.98,0.92],[2.01,0.8],[2.01,0.6],[1.95,0.5],[1.87,0.43],[1.77,0.37],[1.66,0.3],[1.55,0.24],[1.45,0.18],[1.35,0.13],[1.24,0.1],[1.12,0.06],[0.99,0.04],[0.88,0.06],[0.79,0.1],[0.7,0.18],[0.62,0.28],[0.58,0.4],[0.55,0.55],[0.53,0.68],[0.51,0.8],[0.44,0.86],[0.37,0.93],[0.3,1.05],[0.25,1.15],[0.2,1.23],[0.17,1.35],[0.14,1.53],[0.11,1.65],[0.08,1.8],[0.02,1.88]],
[[0.14,3.0],[0.14,2.9],[0.14,2.78],[0.15,2.6],[0.14,2.43],[0.1,2.3],[0.08,2.18],[0.09,2.05],[0.1,1.93],[0.14,1.85],[0.18,1.78],[0.22,1.7],[0.24,1.63],[0.2,1.53],[0.18,1.43],[0.22,1.35],[0.3,1.28],[0.37,1.18],[0.45,1.05],[0.49,0.93],[0.53,0.8],[0.62,0.78],[0.72,0.78],[0.82,0.76],[0.93,0.73],[1.0,0.65],[1.08,0.55],[1.16,0.45],[1.24,0.38],[1.36,0.34],[1.49,0.33],[1.62,0.34],[1.76,0.38],[1.87,0.45],[1.97,0.55],[2.01,0.65],[2.03,0.8]],
[[1.35,3.05],[1.4,2.97],[1.45,2.88],[1.5,2.76],[1.56,2.63],[1.6,2.52],[1.66,2.38],[1.72,2.23],[1.73,2.05],[1.72,1.9],[1.72,1.8],[1.74,1.66],[1.77,1.55],[1.83,1.48],[1.87,1.43],[1.9,1.3],[1.91,1.18],[1.9,1.05],[1.89,0.93],[1.84,0.83],[1.79,0.73],[1.72,0.64],[1.66,0.55],[1.58,0.48],[1.52,0.43],[1.5,0.36],[1.5,0.3]],
[[0.51,3.18],[0.6,3.2],[0.7,3.18],[0.8,3.08],[0.88,3.0],[0.93,2.93],[1.0,2.8],[1.08,2.68],[1.12,2.58],[1.16,2.48],[1.22,2.45],[1.29,2.43],[1.36,2.41],[1.41,2.38],[1.43,2.28],[1.45,2.18],[1.48,2.1],[1.5,2.03],[1.56,1.9],[1.62,1.78],[1.7,1.65],[1.77,1.53],[1.83,1.43],[1.87,1.33],[1.92,1.25],[1.97,1.18],[2.03,1.05]],
[[1.24,1.48],[1.24,1.4],[1.22,1.3],[1.2,1.22],[1.18,1.15],[1.2,1.08],[1.24,1.03],[1.3,0.98],[1.36,0.92],[1.45,0.8],[1.55,0.72],[1.66,0.68],[1.78,0.65],[1.87,0.63],[1.95,0.6],[2.03,0.59]],
[[1.25,1.48],[1.32,1.38],[1.4,1.28],[1.48,1.18],[1.54,1.12],[1.52,1.05],[1.45,1.15],[1.38,1.25],[1.3,1.35],[1.36,1.3],[1.44,1.22],[1.52,1.14],[1.56,1.08],[1.5,1.1],[1.42,1.18],[1.34,1.28],[1.28,1.36]]
];

// ---------- panel 8 ----------
const p8Truth = [
[[0.395,1.79],[0.45,1.77],[0.51,1.74],[0.58,1.7],[0.64,1.65],[0.7,1.61],[0.76,1.59],[0.83,1.58],[0.89,1.57],[0.96,1.56],[1.02,1.56],[1.08,1.55],[1.14,1.55],[1.2,1.52],[1.22,1.45],[1.23,1.37],[1.26,1.3],[1.3,1.2],[1.33,1.13],[1.38,1.08],[1.44,1.04],[1.49,1.02],[1.52,1.0],[1.53,0.92],[1.53,0.85],[1.55,0.75],[1.56,0.66]],
[[0.34,1.54],[0.4,1.56],[0.47,1.58],[0.56,1.59],[0.64,1.59],[0.72,1.59],[0.8,1.59],[0.88,1.58],[0.95,1.58],[1.05,1.56],[1.14,1.53],[1.19,1.5],[1.21,1.43],[1.22,1.35],[1.24,1.28],[1.28,1.22],[1.33,1.16],[1.38,1.1],[1.44,1.06],[1.5,1.04],[1.56,1.02]],
[[0.64,1.65],[0.7,1.69],[0.77,1.74],[0.82,1.78],[0.85,1.8],[0.9,1.82],[0.94,1.82],[0.95,1.76],[0.94,1.7],[0.92,1.63],[0.87,1.6],[0.83,1.59],[0.78,1.61],[0.74,1.64],[0.7,1.68],[0.66,1.7],[0.6,1.68],[0.56,1.64],[0.53,1.6],[0.5,1.56]],
[[0.34,1.54],[0.38,1.5],[0.42,1.48],[0.43,1.42],[0.42,1.37],[0.38,1.35],[0.34,1.34]],
[[0.34,1.3],[0.42,1.3],[0.51,1.3],[0.58,1.32],[0.64,1.34],[0.68,1.39],[0.69,1.43],[0.66,1.48],[0.63,1.52],[0.64,1.57]],
[[0.34,1.22],[0.4,1.2],[0.45,1.19],[0.5,1.16],[0.55,1.13],[0.6,1.1],[0.6,1.05],[0.6,1.0],[0.58,0.92],[0.55,0.83],[0.59,0.77],[0.65,0.74],[0.7,0.72],[0.78,0.7],[0.81,0.66],[0.83,0.6],[0.85,0.55],[0.87,0.5],[0.9,0.46],[0.94,0.43],[1.02,0.43],[1.1,0.44],[1.19,0.45],[1.24,0.42],[1.29,0.39],[1.33,0.36],[1.37,0.33],[1.42,0.36],[1.46,0.39],[1.51,0.44],[1.56,0.48]],
[[0.34,1.25],[0.42,1.22],[0.48,1.15],[0.52,1.1],[0.55,1.0],[0.53,0.94],[0.52,0.89],[0.55,0.83],[0.57,0.79],[0.62,0.77],[0.67,0.75],[0.72,0.71],[0.76,0.67],[0.8,0.6],[0.83,0.55],[0.86,0.51],[0.89,0.48],[0.92,0.43],[0.95,0.39],[1.02,0.37],[1.08,0.36],[1.15,0.35],[1.21,0.33],[1.28,0.3],[1.34,0.25],[1.37,0.21],[1.4,0.18],[1.45,0.22],[1.5,0.28],[1.56,0.33]],
[[0.98,0.22],[1.03,0.24],[1.08,0.24],[1.12,0.22],[1.14,0.21],[1.17,0.18],[1.21,0.15],[1.14,0.15],[1.08,0.15],[1.02,0.17],[0.98,0.2]],
[[1.15,0.1],[1.21,0.03],[1.28,0.04],[1.34,0.06],[1.4,0.1],[1.46,0.13],[1.52,0.18],[1.56,0.21]],
[[1.37,0.92],[1.44,0.94],[1.52,0.95],[1.54,0.88],[1.54,0.8],[1.55,0.72],[1.56,0.66]],
[[1.38,0.22],[1.42,0.28],[1.45,0.35],[1.48,0.4],[1.52,0.42],[1.56,0.44]],
[[1.4,0.3],[1.45,0.38],[1.5,0.4],[1.56,0.38]]
];
const p8Est = [
[[0.395,1.81],[0.44,1.78],[0.48,1.76],[0.56,1.72],[0.64,1.67],[0.7,1.64],[0.76,1.62],[0.85,1.61],[0.95,1.61],[1.02,1.62],[1.08,1.62],[1.14,1.56],[1.18,1.52],[1.21,1.49],[1.22,1.42],[1.23,1.37],[1.26,1.3],[1.28,1.25],[1.32,1.2],[1.36,1.15],[1.4,1.11],[1.44,1.07],[1.48,1.05],[1.52,1.03],[1.55,0.98],[1.56,0.92]],
[[0.34,1.72],[0.42,1.73],[0.51,1.74],[0.58,1.73],[0.64,1.71],[0.7,1.72],[0.76,1.73],[0.83,1.72],[0.89,1.72],[0.96,1.71],[1.02,1.7],[1.08,1.7],[1.14,1.69],[1.18,1.68],[1.2,1.62],[1.21,1.55],[1.22,1.48],[1.22,1.43],[1.24,1.37],[1.26,1.32],[1.29,1.28],[1.31,1.25],[1.35,1.19],[1.39,1.13],[1.43,1.1],[1.46,1.07],[1.5,1.05],[1.54,1.04],[1.56,1.0]],
[[0.55,1.6],[0.53,1.62],[0.57,1.64],[0.63,1.67],[0.7,1.7],[0.76,1.77],[0.8,1.79],[0.83,1.8],[0.87,1.84],[0.9,1.86],[0.9,1.82],[0.87,1.77],[0.83,1.72],[0.78,1.68],[0.72,1.64],[0.66,1.61],[0.61,1.57],[0.57,1.55],[0.59,1.59]],
[[0.34,1.42],[0.4,1.44],[0.45,1.46],[0.5,1.48],[0.57,1.5],[0.59,1.55],[0.59,1.59],[0.56,1.63],[0.5,1.66],[0.44,1.68],[0.38,1.69],[0.34,1.7]],
[[0.34,1.36],[0.4,1.38],[0.47,1.39],[0.52,1.41],[0.55,1.43],[0.58,1.46]],
[[0.34,1.26],[0.38,1.26],[0.42,1.24],[0.45,1.2],[0.47,1.16],[0.46,1.08],[0.46,1.0],[0.45,0.92],[0.44,0.86],[0.47,0.81],[0.52,0.77],[0.58,0.73],[0.65,0.7],[0.7,0.66],[0.74,0.63],[0.77,0.58],[0.8,0.52],[0.83,0.47],[0.85,0.43],[0.89,0.37],[0.95,0.36],[1.02,0.36],[1.08,0.35],[1.14,0.33],[1.21,0.29],[1.27,0.25],[1.33,0.22],[1.4,0.19],[1.46,0.21],[1.51,0.25],[1.56,0.28]],
[[0.34,1.25],[0.4,1.22],[0.44,1.15],[0.48,1.05],[0.51,0.95],[0.56,0.92],[0.61,0.89],[0.66,0.86],[0.7,0.83],[0.75,0.78],[0.78,0.74],[0.81,0.68],[0.83,0.63],[0.85,0.57],[0.87,0.51],[0.9,0.45],[0.92,0.4],[0.98,0.39],[1.08,0.39],[1.15,0.38],[1.21,0.36],[1.28,0.32],[1.34,0.28],[1.38,0.24],[1.4,0.21]],
[[1.4,0.21],[1.3,0.22],[1.22,0.22],[1.14,0.2],[1.08,0.16],[1.03,0.14],[1.02,0.11],[1.05,0.09],[1.12,0.08],[1.18,0.08],[1.21,0.07],[1.24,0.03],[1.27,0.0],[1.32,-0.03],[1.36,-0.05],[1.41,-0.03],[1.46,0.0],[1.51,0.03],[1.56,0.06]],
[[1.4,0.2],[1.44,0.28],[1.48,0.35],[1.5,0.4],[1.53,0.38],[1.49,0.32],[1.46,0.26],[1.5,0.3],[1.54,0.36],[1.56,0.4]],
[[1.38,0.16],[1.44,0.24],[1.5,0.28],[1.56,0.32]]
];

const truthData = [p1Truth,p2Truth,p3Truth,p4Truth,p5Truth,p6Truth,p7Truth,p8Truth];
const estData = [p1Est,p2Est,p3Est,p4Est,p5Est,p6Est,p7Est,p8Est];

// ---------- layout (pixels) ----------
const panelLeft = [5,331,657,984,5,331,657,984];
const panelRight = [323,650,976,1303,323,650,976,1303];
const panelTop = [2,2,2,2,596,596,596,596];
const panelBottom = [499,499,499,499,1092,1092,1092,1092];
const clipBottom = [560,560,560,560,1146,1146,1146,1146];
const legendLeft = [211,546,938,1234,254,569,876,1272];
const legendTop = [9,9,9,9,602,602,602,602];

const FONT = '"Liberation Sans", Arial, Helvetica, sans-serif';
const TEXT = '#303030';
const TRUTH_COLOR = '#575757';
const EST_COLOR = '#5677BA';
const EXT = 160, EXT_T = 40;

for (let i = 0; i < 8; i++) {
  const L = panelLeft[i], R = panelRight[i], top = panelTop[i], bot = panelBottom[i];
  const w = R - L, h = bot - top, clipH = clipBottom[i] - top;
  const clip = document.createElement('div');
  clip.className = 'clip';
  clip.style.cssText = `left:${L}px;top:${top}px;width:${w}px;height:${clipH}px;`;
  const inner = document.createElement('div');
  inner.className = 'inner';
  const iw = w + 2 * EXT, ih = clipH + EXT_T;
  inner.style.cssText = `left:${-EXT}px;top:${-EXT_T}px;width:${iw}px;height:${ih}px;`;
  clip.appendChild(inner);
  document.body.appendChild(clip);

  const xv = xVisible[i], yv = yVisible[i];
  const ppx = w / (xv[1] - xv[0]);
  const ppy = h / (yv[1] - yv[0]);
  const xmin = xv[0] - EXT / ppx, xmax = xv[1] + EXT / ppx;
  const ymin = yv[0], ymax = yv[1] + EXT_T / ppy;
  const dec = xTickDecimals[i];
  const labelFmt = v => {
    const p = (v - xv[0]) * ppx;
    return (p < -30 || p > w + 30) ? '' : (Math.abs(v) < 1e-9 ? 0 : v).toFixed(dec);
  };

  const series = [];
  truthData[i].forEach(seg => series.push({
    type: 'line', name: seriesNames[0], data: seg, symbol: 'none', smooth: 0.25,
    silent: true, clip: true, z: 2,
    lineStyle: { color: TRUTH_COLOR, width: 1.7, type: [6.5, 3.5] },
    itemStyle: { color: TRUTH_COLOR }
  }));
  estData[i].forEach(seg => series.push({
    type: 'line', name: seriesNames[1], data: seg, symbol: 'none', smooth: 0.25,
    silent: true, clip: true, z: 3,
    lineStyle: { color: EST_COLOR, width: 1.7 },
    itemStyle: { color: EST_COLOR }
  }));

  const chart = echarts.init(inner, null, { renderer: 'canvas', width: iw, height: ih });
  chart.setOption({
    animation: false,
    textStyle: { fontFamily: FONT },
    grid: { left: 0, right: 0, top: 0, bottom: clipH - h, show: true, backgroundColor: '#EAEAF2',
      borderWidth: 0, containLabel: false, outerBoundsMode: 'none' },
    xAxis: {
      type: 'value', min: xmin, max: xmax,
      minInterval: xTickStep[i], maxInterval: xTickStep[i],
      axisLine: { show: false }, axisTick: { show: false },
      splitLine: { show: true, lineStyle: { color: '#ffffff', width: 1.3 } },
      axisLabel: { fontSize: 15, color: TEXT, margin: 13, showMinLabel: false, showMaxLabel: false,
        formatter: labelFmt },
      name: '{i|x} (m)', nameLocation: 'middle', nameGap: 36,
      nameTextStyle: { fontSize: 16, color: TEXT, rich: { i: { fontStyle: 'italic', fontSize: 16, color: TEXT } } }
    },
    yAxis: {
      type: 'value', min: ymin, max: ymax,
      minInterval: yTickStep[i], maxInterval: yTickStep[i],
      axisLine: { show: false }, axisTick: { show: false }, axisLabel: { show: false },
      splitLine: { show: true, lineStyle: { color: '#ffffff', width: 1.3 } }
    },
    legend: {
      data: seriesNames, orient: 'vertical', selectedMode: false,
      left: legendLeft[i] - L + EXT, top: legendTop[i] - top + EXT_T,
      itemWidth: 32, itemHeight: 12, itemGap: 6,
      padding: [5, 8, 5, 6],
      itemStyle: { color: 'rgba(0,0,0,0)', borderColor: 'rgba(0,0,0,0)', borderWidth: 0, opacity: 0 },
      backgroundColor: 'rgba(234,234,242,0.8)', borderColor: '#cccccc', borderWidth: 1, borderRadius: 4,
      textStyle: { fontSize: 15, color: '#262626', padding: [0, 0, 0, 9] }
    },
    series: series
  });
}
</script>
</body></html>
